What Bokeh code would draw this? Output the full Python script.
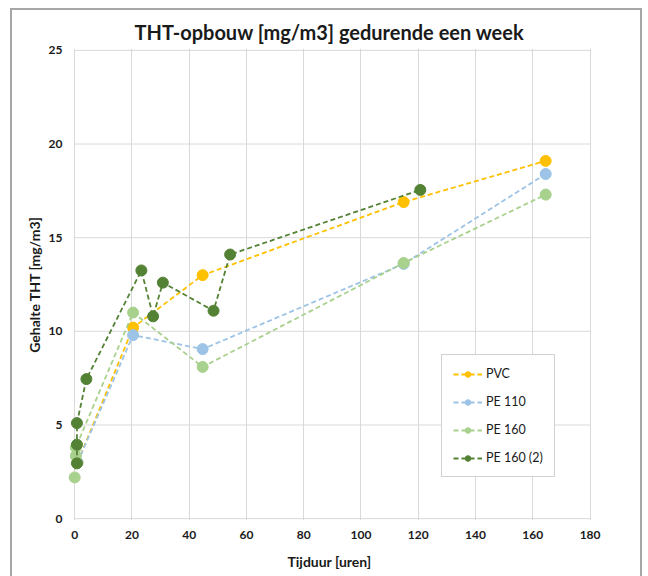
from bokeh.plotting import figure
from bokeh.models import Range1d, FixedTicker, Legend, LegendItem
from bokeh.embed import file_html
from bokeh.resources import INLINE

# ---- data ----
pvc_x = [1.0, 20.4, 44.7, 114.9, 164.5]
pvc_y = [3.0, 10.2, 13.0, 16.9, 19.1]

pe110_x = [1.0, 20.4, 44.7, 114.9, 164.5]
pe110_y = [3.0, 9.8, 9.05, 13.6, 18.4]

pe160_x = [0.0, 0.4, 0.4, 20.4, 44.7, 114.9, 164.5]
pe160_y = [2.2, 3.35, 3.8, 11.0, 8.1, 13.65, 17.3]

pe160b_x = [0.8, 0.8, 0.8, 4.1, 23.3, 27.4, 30.8, 48.5, 54.3, 120.7]
pe160b_y = [2.95, 3.95, 5.1, 7.45, 13.25, 10.8, 12.6, 11.1, 14.1, 17.55]

series_names = ["PVC", "PE 110", "PE 160", "PE 160 (2)"]
series_colors = ["#FFC000", "#9DC3E6", "#A9D18E", "#548235"]

x_ticks = [0, 20, 40, 60, 80, 100, 120, 140, 160, 180]
y_ticks = [0, 5, 10, 15, 20, 25]

FONT = "Lato"

p = figure(width=632, height=568, output_backend="svg", toolbar_location=None,
           x_range=Range1d(-2.5, 180.5), y_range=Range1d(-0.1, 25.1),
           min_border_left=57, min_border_right=51, min_border_top=40, min_border_bottom=56,
           title="THT-opbouw [mg/m3] gedurende een week")
p.margin = (8, 0, 0, 10)
p.outline_line_color = None
p.background_fill_color = "white"
p.border_fill_color = "white"
p.border_fill_alpha = 0
p.styles = {"background-color": "white",
            "box-shadow": "inset 2px 2px 0 #a6a6a6, inset -2px 0 0 #a6a6a6"}

p.title.align = "center"
p.title.text_font = FONT
p.title.text_font_size = "20px"
p.title.text_font_style = "bold"
p.title.text_color = "#1a1a1a"
p.title.standoff = 10
p.title.offset = -12

# grids
p.xgrid.ticker = FixedTicker(ticks=x_ticks)
p.xgrid.grid_line_color = "#d9d9d9"
p.ygrid.grid_line_color = None
p.segment(x0=[x_ticks[0]] * len(y_ticks), x1=[x_ticks[-1]] * len(y_ticks),
          y0=y_ticks, y1=y_ticks, line_color="#d9d9d9", line_width=1)

# axes
for ax in (p.xaxis[0], p.yaxis[0]):
    ax.axis_line_color = None
    ax.major_tick_line_color = None
    ax.minor_tick_line_color = None
    ax.major_tick_out = 0
    ax.major_tick_in = 0
    ax.minor_tick_out = 0
    ax.minor_tick_in = 0
    ax.major_label_text_font = FONT
    ax.major_label_text_font_style = "bold"
    ax.major_label_text_font_size = "12px"
    ax.major_label_text_color = "#1a1a1a"
    ax.axis_label_text_font = FONT
    ax.axis_label_text_font_style = "bold"
    ax.axis_label_text_font_size = "14px"
    ax.axis_label_text_color = "#1a1a1a"

p.xaxis.ticker = FixedTicker(ticks=x_ticks)
p.yaxis.ticker = FixedTicker(ticks=y_ticks)
p.xaxis.axis_label = "Tijduur [uren]"
p.yaxis.axis_label = "Gehalte THT [mg/m3]"
p.xaxis.major_label_standoff = 10
p.xaxis.axis_label_standoff = 11
p.yaxis.major_label_standoff = 5
p.yaxis.axis_label_standoff = 3

items = []
for name, color, xs, ys in zip(series_names, series_colors,
                               [pvc_x, pe110_x, pe160_x, pe160b_x],
                               [pvc_y, pe110_y, pe160_y, pe160b_y]):
    ln = p.line(xs, ys, line_color=color, line_width=1.8, line_dash="5 3")
    sc = p.scatter(xs, ys, size=11, fill_color=color, line_color=color, line_width=1)
    items.append(LegendItem(label=name, renderers=[ln, sc]))

legend = Legend(items=items, location=(374, 43))
legend.label_text_font = FONT
legend.label_text_font_size = "12.5px"
legend.label_text_color = "#1a1a1a"
legend.glyph_width = 29
legend.glyph_height = 14
legend.label_height = 14
legend.spacing = 13
legend.padding = 11
legend.label_standoff = 4
legend.border_line_color = "#a6a6a6"
legend.border_line_width = 1
legend.background_fill_color = "white"
legend.background_fill_alpha = 1
p.add_layout(legend, "center")

open("out.html", "w").write(file_html(p, INLINE))
